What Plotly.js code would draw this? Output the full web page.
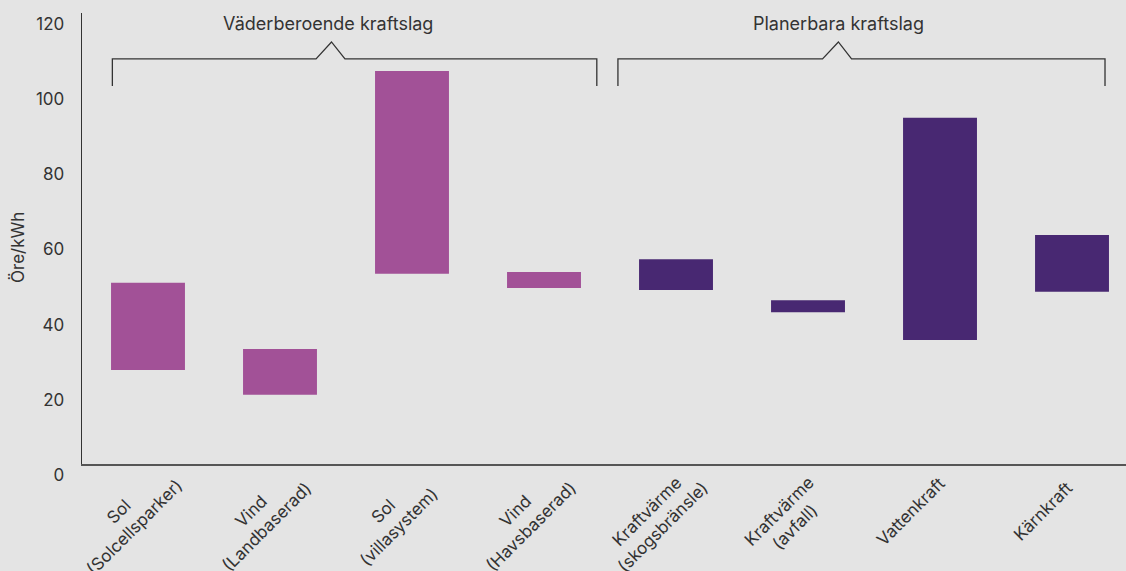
<!DOCTYPE html>
<html>
<head>
<meta charset="utf-8">
<script src="https://cdn.plot.ly/plotly-3.0.1.min.js"></script>
<style>
  html, body { margin: 0; padding: 0; background: #e4e4e4; }
  #chart { width: 1126px; height: 571px; }
</style>
</head>
<body>
<div id="chart"></div>
<script>
// ---- Data ----
const categories = [
  "Sol<br>(Solcellsparker)",
  "Vind<br>(Landbaserad)",
  "Sol<br>(villasystem)",
  "Vind<br>(Havsbaserad)",
  "Kraftvärme<br>(skogsbränsle)",
  "Kraftvärme<br>(avfall)",
  "Vattenkraft",
  "Kärnkraft"
];
const lowValues  = [25.0, 18.4, 50.6, 46.8, 46.3, 40.4, 33.0, 45.8];
const highValues = [48.2, 30.6, 104.6, 51.1, 54.5, 43.6, 92.1, 60.9];
const groupIndex = [0, 0, 0, 0, 1, 1, 1, 1];
const groupNames = ["Väderberoende kraftslag", "Planerbara kraftslag"];
const yTickValues = [0, 20, 40, 60, 80, 100, 120];
const yAxisTitle = "Öre/kWh";

// ---- Style ----
const groupColors = ["#a25197", "#482872"];
const FONT = "Inter, 'Noto Sans', sans-serif";
const TXT = "#333333";

const xIdx = categories.map((_, i) => i);

const trace = {
  type: "bar",
  x: xIdx,
  base: lowValues,
  y: highValues.map((h, i) => h - lowValues[i]),
  width: 0.56,
  marker: { color: groupIndex.map(g => groupColors[g]), line: { width: 0 } },
  hoverinfo: "skip"
};

// category label annotations (rotated, centre aligned)
const labelAnns = categories.map((c, i) => {
  const n = c.split("<br>").length;
  return {
    x: i, y: 0, xref: "x", yref: "y",
    text: c, showarrow: false, textangle: -45, align: "center",
    xanchor: "center", yanchor: "middle",
    xshift: -36 + 7.4 * n, yshift: -(40 + 7.4 * n),
    font: { family: FONT, size: 17, color: TXT }
  };
});

// group brackets
const bracketY = { foot: 100.6, bar: 107.8, peak: 112.3 };
const brackets = [
  { x0: -0.27, x1: 3.40, p1: 1.273, pc: 1.39, p2: 1.492, tx: 1.36 },
  { x0: 3.56, x1: 7.25, p1: 5.11, pc: 5.23, p2: 5.33, tx: 5.23 }
];
const shapes = brackets.map(b => ({
  type: "path", xref: "x", yref: "y",
  path: `M ${b.x0},${bracketY.foot} L ${b.x0},${bracketY.bar} L ${b.p1},${bracketY.bar} L ${b.pc},${bracketY.peak} L ${b.p2},${bracketY.bar} L ${b.x1},${bracketY.bar} L ${b.x1},${bracketY.foot}`,
  line: { color: "#333333", width: 1.3 }
}));
const groupAnns = brackets.map((b, g) => ({
  x: b.tx, y: 117.1, xref: "x", yref: "y",
  text: groupNames[g], showarrow: false,
  xanchor: "center", yanchor: "middle",
  font: { family: FONT, size: 18, color: TXT }
}));

const titleAnn = {
  x: -0.0613, y: 0.479, xref: "paper", yref: "paper",
  text: yAxisTitle, showarrow: false, textangle: -90,
  xanchor: "center", yanchor: "middle",
  font: { family: FONT, size: 17, color: TXT }
};

const layout = {
  width: 1126, height: 571,
  margin: { l: 82, r: 0, t: 13, b: 107, pad: 0 },
  paper_bgcolor: "#e4e4e4",
  plot_bgcolor: "#e4e4e4",
  showlegend: false,
  font: { family: FONT, color: TXT },
  xaxis: {
    range: [-0.5, 7.409],
    showticklabels: false, ticks: "", showgrid: false, zeroline: false,
    showline: true, linecolor: "#555555", linewidth: 1.6,
    fixedrange: true
  },
  yaxis: {
    range: [0, 120],
    tickvals: yTickValues, ticktext: yTickValues.map(String),
    ticks: "", showgrid: false, zeroline: false,
    showline: true, linecolor: "#333333", linewidth: 1.3,
    ticklabelstandoff: 13, ticklabelshift: 11,
    tickfont: { family: FONT, size: 17, color: TXT },
    fixedrange: true
  },
  shapes: shapes,
  annotations: labelAnns.concat(groupAnns, [titleAnn])
};

Plotly.newPlot("chart", [trace], layout, { displayModeBar: false, staticPlot: true });
</script>
</body>
</html>
